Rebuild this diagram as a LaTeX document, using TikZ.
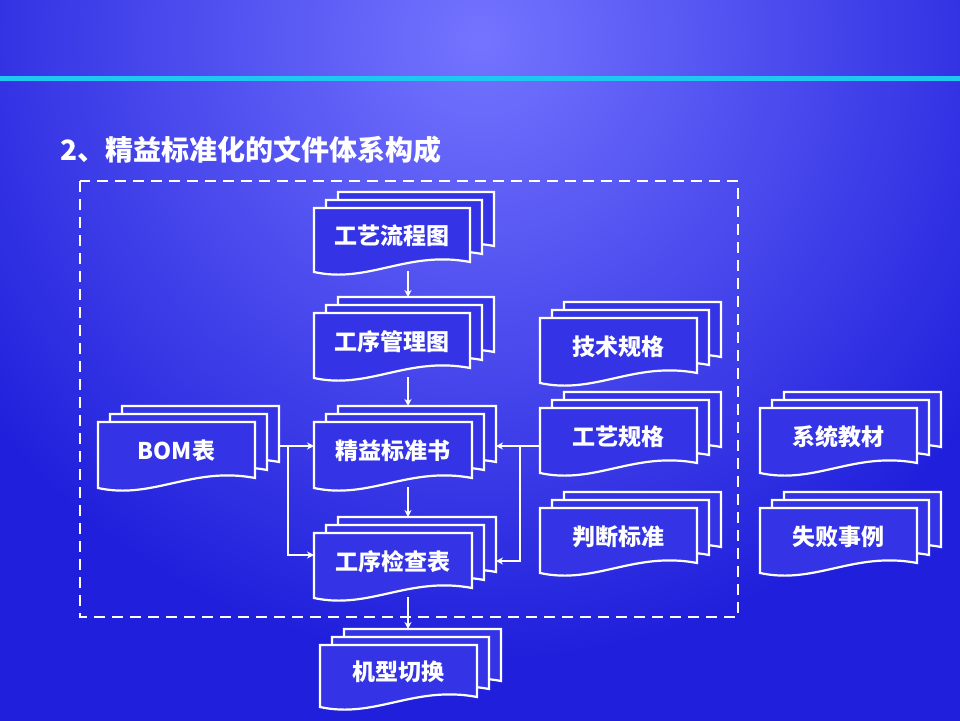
\documentclass[tikz,border=0pt]{standalone}
\usepackage{fontspec}
\setmainfont{Noto Sans CJK SC Black}
\usetikzlibrary{arrows.meta}
\definecolor{bgdark}{HTML}{2020DC}
\definecolor{bglight}{HTML}{7474FF}
\definecolor{pagefill}{HTML}{3434E6}
\definecolor{cyanline}{HTML}{1EC8F0}
\tikzset{
  page/.style={draw=white, line width=2.2pt, fill=pagefill},
  conn/.style={draw=white, line width=2.2pt, -{Stealth[length=7pt,width=7pt]}},
  lbl/.style={text=white, font=\fontsize{23}{26}\selectfont, inner sep=0pt}
}
\newcommand\pageshape[4]{% x y w h
  \path[page] (#1,#2) -- ++(#3,0) -- ++(0,#4-10)
    .. controls ++(-0.4*#3,-12) and ++(0.35*#3,12) .. (#1,#2+#4) -- cycle;}
\newcommand\docstack[6]{% name x y w h text
  \pageshape{#2+24}{#3-16}{#4}{#5}
  \pageshape{#2+12}{#3-8}{#4}{#5}
  \pageshape{#2}{#3}{#4}{#5}
  \node[lbl] (#1) at (#2+#4/2,#3+#5/2-4) {#6};
  \coordinate (#1-W) at (#2,#3+24);
  \coordinate (#1-E) at (#2+#4+24,#3+24);
  \coordinate (#1-N) at (#2+94,#3-16);
  \coordinate (#1-S) at (#2+94,#3+#5-1);
}
\begin{document}
\begin{tikzpicture}[x=1pt,y=-1pt]
\useasboundingbox (0,0) rectangle (960,720);
\fill[bgdark] (-10,-10) rectangle (970,730);
\begin{scope}
\clip (-2,-2) rectangle (962,722);
\shade[inner color=bglight, outer color=bgdark] (480,40) circle (620);
\end{scope}
\fill[cyanline] (0,76) rectangle (960,81);
\node[anchor=west, text=white, font=\fontsize{28}{30}\selectfont, inner sep=0pt] (title) at (60,150) {2、精益标准化的文件体系构成};
\draw[white, line width=2.2pt, dash pattern=on 11pt off 7pt] (80,181) rectangle (738,617);
\docstack{gylct}{314}{208}{156}{64}{工艺流程图}
\docstack{gxglt}{314}{313}{156}{65}{工序管理图}
\docstack{jbbzs}{314}{422}{158}{66}{精益标准书}
\docstack{gxjcb}{314}{533}{158}{65}{工序检查表}
\docstack{jxqh}{320}{645}{157}{62}{机型切换}
\docstack{bom}{98}{422}{157}{66}{BOM表}
\docstack{jsgg}{540}{318}{157}{65}{技术规格}
\docstack{gygg}{540}{408}{157}{65}{工艺规格}
\docstack{pdbz}{540}{508}{157}{65}{判断标准}
\docstack{xtjc}{760}{408}{157}{65}{系统教材}
\docstack{sbsl}{760}{508}{157}{65}{失败事例}
\draw[conn] (gylct-S) -- (gxglt-N);
\draw[conn] (gxglt-S) -- (jbbzs-N);
\draw[conn] (jbbzs-S) -- (gxjcb-N);
\draw[conn] (gxjcb-S) -- (gxjcb-S |- jxqh-N);
\draw[conn] (bom-E) -- (jbbzs-W);
\coordinate (lb) at (288,446);
\draw[conn] (lb) |- ([yshift=2pt]gxjcb-W);
\coordinate (rb) at (520,446);
\draw[conn] (gygg-W |- jbbzs-E) -- (jbbzs-E);
\draw[conn] (rb) |- ([yshift=-4pt]gxjcb-E);
\end{tikzpicture}
\end{document}
